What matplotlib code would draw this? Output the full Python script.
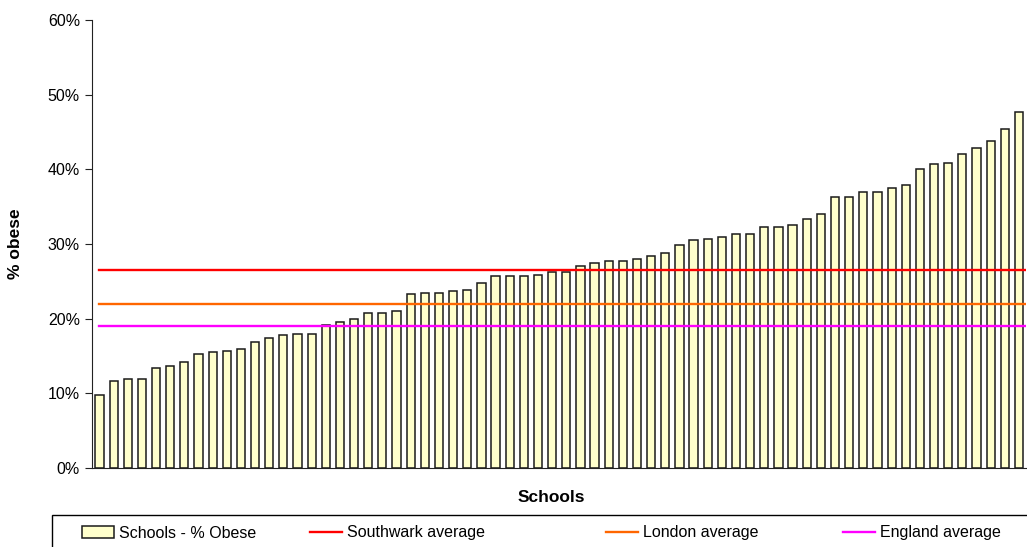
import numpy as np
import matplotlib
matplotlib.use("Agg")
import matplotlib.pyplot as plt
from matplotlib.patches import Rectangle

plt.rcParams["font.family"] = ["Liberation Sans", "DejaVu Sans"]

# % obese per school, sorted ascending
obese_pct = [
    9.8, 11.7, 11.9, 11.9, 13.4, 13.6, 14.2, 15.3, 15.5, 15.7,
    15.9, 16.9, 17.4, 17.8, 18.0, 18.0, 19.1, 19.5, 19.9, 20.7,
    20.7, 21.0, 23.3, 23.5, 23.5, 23.7, 23.8, 24.8, 25.7, 25.7,
    25.7, 25.9, 26.2, 26.3, 27.0, 27.5, 27.7, 27.7, 28.0, 28.4,
    28.8, 29.9, 30.5, 30.7, 30.9, 31.4, 31.4, 32.3, 32.3, 32.5,
    33.3, 34.0, 36.3, 36.3, 36.9, 36.9, 37.5, 37.9, 40.0, 40.7,
    40.9, 42.1, 42.8, 43.8, 45.4, 47.7,
]
southwark_avg = 26.5
london_avg = 21.9
england_avg = 19.0

avg_labels = ["Southwark average", "London average", "England average"]
avg_values = [southwark_avg, london_avg, england_avg]
avg_colors = ["#FF0000", "#FF6600", "#FF00FF"]

W, H = 1027, 547
fig = plt.figure(figsize=(W / 100, H / 100), dpi=100)
ax_w = (1026 - 92.4) / W
ax = fig.add_axes([92.4 / W, (H - 468) / H, ax_w, (468 - 20) / H])

x = np.arange(len(obese_pct))
bars = ax.bar(x, np.array(obese_pct) / 100, width=0.58, color="#FFFFCC",
              edgecolor="#1a1a1a", linewidth=1.1, label="Schools - % Obese", zorder=2)

lines = []
for lab, val, col in zip(avg_labels, avg_values, avg_colors):
    ln, = ax.plot([x[0], x[-1] + 0.5], [val / 100, val / 100], color=col,
                  linewidth=1.7, label=lab, zorder=3)
    lines.append(ln)

ax.set_xlim(-0.5, len(obese_pct) - 0.5)
ax.set_ylim(0, 0.6)
ticks = np.arange(0, 0.61, 0.1)
ax.set_yticks(ticks)
ax.set_yticklabels([f"{int(round(t * 100))}%" for t in ticks])
ax.set_xticks([])
for s in ["top", "right"]:
    ax.spines[s].set_visible(False)
ax.spines["left"].set_color("#222222")
ax.spines["bottom"].set_color("#222222")
ax.tick_params(axis="y", length=5, width=0.8, color="#222222", labelsize=11.5, pad=4)

ax.set_ylabel("% obese", fontsize=12.5, fontweight="bold")
ax.yaxis.set_label_coords(-(92.4 - 16) / (ax_w * W), 0.5)
ax.yaxis.label.set_va("center")
fig.text(551.5 / W, 1 - 497.5 / H, "Schools", ha="center", va="center",
         fontsize=12.5, fontweight="bold")

# legend frame (runs off the bottom/right edge like the original)
fig.add_artist(Rectangle((52 / W, -0.1), 1.2, 0.1 + (H - 515) / H,
                         transform=fig.transFigure, fill=False,
                         edgecolor="black", linewidth=1.0))

handles = [bars] + lines
labels = ["Schools - % Obese"] + avg_labels
xpos = [82, 310, 606, 843]
for h, lab, xp in zip(handles, labels, xpos):
    fig.legend([h], [lab], loc="center left",
               bbox_to_anchor=(xp / W, 1 - 533 / H), frameon=False,
               borderpad=0, borderaxespad=0, handlelength=2.0,
               handletextpad=0.3, fontsize=11.5)

fig.savefig("out.png", dpi=100)
